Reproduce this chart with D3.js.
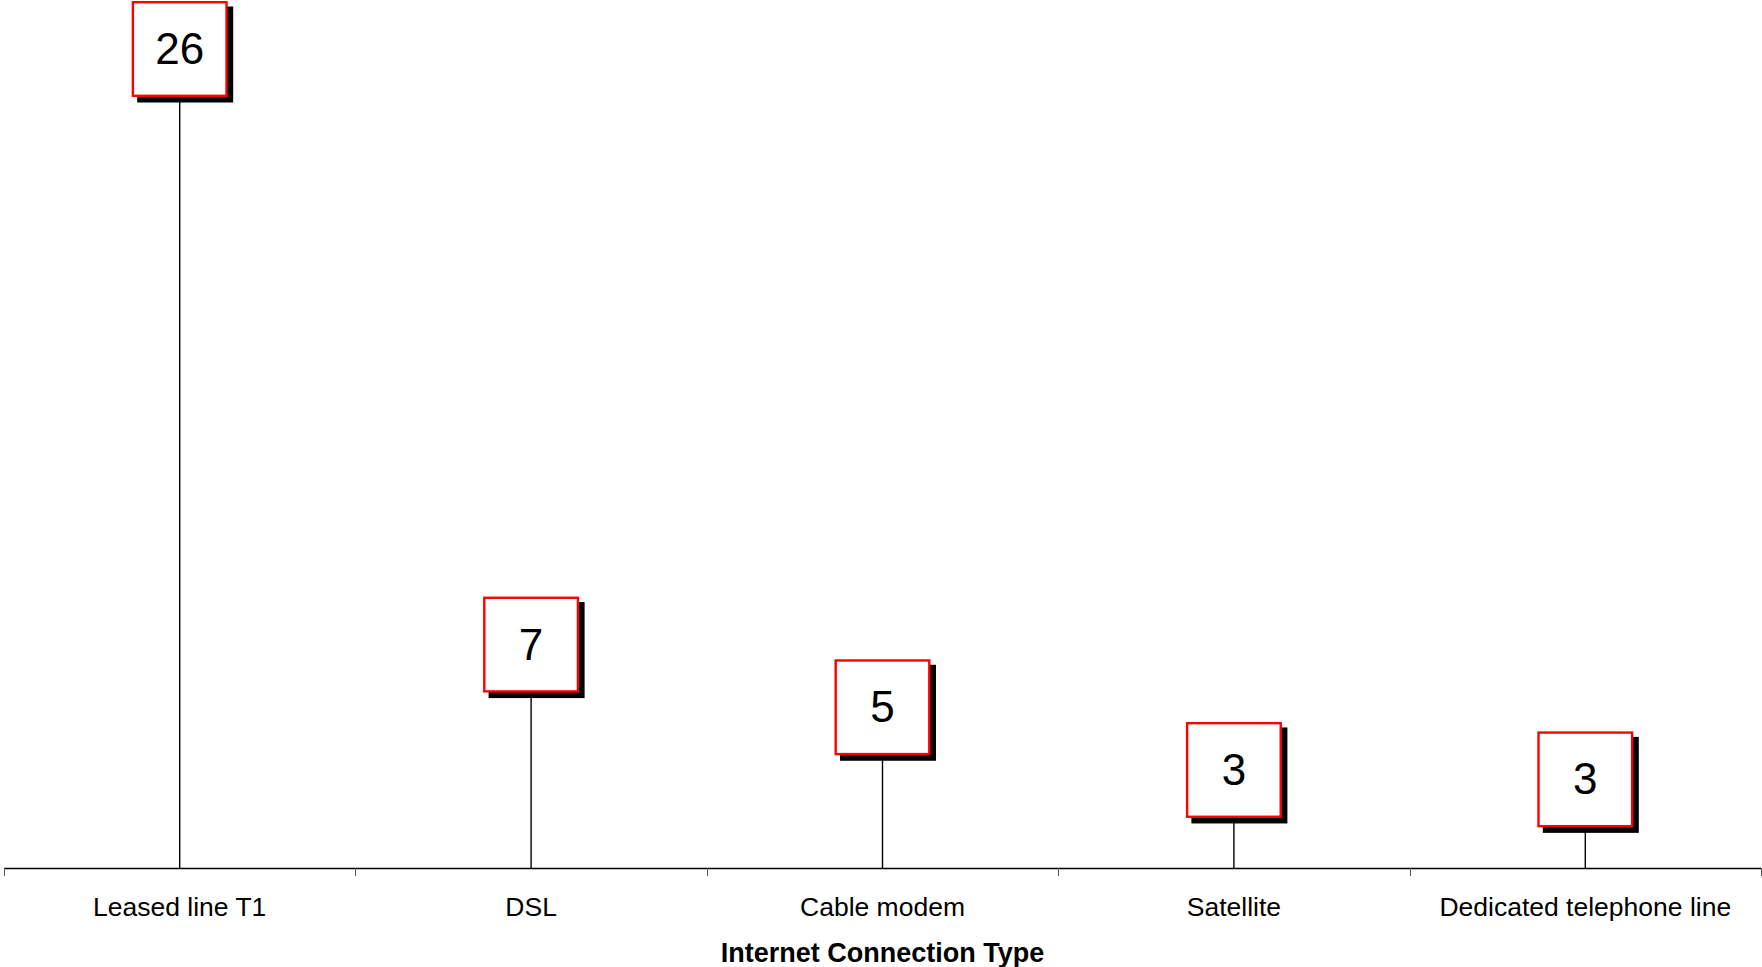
<!DOCTYPE html>
<html>
<head>
<meta charset="utf-8">
<script src="https://cdn.jsdelivr.net/npm/d3@7"></script>
<style>
  html, body { margin: 0; padding: 0; background: #fff; }
  svg { display: block; }
  text { font-family: "Liberation Sans", Arial, sans-serif; }
</style>
</head>
<body>
<svg id="chart" width="1762" height="967"></svg>
<script>
const categories = ["Leased line T1", "DSL", "Cable modem", "Satellite", "Dedicated telephone line"];
const values = [26, 7, 5, 3, 2.7];
const axisTitle = "Internet Connection Type";

const W = 1762, H = 967;
const axisY = 868;
const svg = d3.select("#chart");

const x = d3.scaleBand().domain(categories).range([4, 1761]).padding(0);
const y = d3.scaleLinear().domain([0, 26]).range([864, 49]);
const fmt = d3.format(".0f");
const data = categories.map((c, i) => ({ c, v: values[i] }));

// axis line and boundary ticks
svg.append("line")
  .attr("x1", x.range()[0]).attr("x2", x.range()[1])
  .attr("y1", axisY + 0.5).attr("y2", axisY + 0.5)
  .attr("stroke", "#000").attr("stroke-width", 1.3);
const bounds = categories.map(c => x(c)).concat([x.range()[1]]);
svg.selectAll("line.tick").data(bounds).enter().append("line")
  .attr("class", "tick")
  .attr("x1", d => Math.round(d) + 0.5).attr("x2", d => Math.round(d) + 0.5)
  .attr("y1", axisY).attr("y2", axisY + 8)
  .attr("stroke", "#555").attr("stroke-width", 1);

// category labels
svg.selectAll("text.cat").data(categories).enter().append("text")
  .attr("class", "cat")
  .attr("x", d => x(d) + x.bandwidth() / 2)
  .attr("y", 916)
  .attr("text-anchor", "middle")
  .attr("font-size", 26.5)
  .attr("fill", "#000")
  .text(d => d);

// axis title
svg.append("text")
  .attr("x", (x.range()[0] + x.range()[1]) / 2)
  .attr("y", 962)
  .attr("text-anchor", "middle")
  .attr("font-size", 27)
  .attr("font-weight", "bold")
  .attr("fill", "#000")
  .text(axisTitle);

// stems
svg.selectAll("line.stem").data(data).enter().append("line")
  .attr("class", "stem")
  .attr("x1", d => x(d.c) + x.bandwidth() / 2)
  .attr("x2", d => x(d.c) + x.bandwidth() / 2)
  .attr("y1", axisY)
  .attr("y2", d => y(d.v))
  .attr("stroke", "#000").attr("stroke-width", 1.4);

// label boxes
const box = 96;
const g = svg.selectAll("g.lbl").data(data).enter().append("g")
  .attr("class", "lbl")
  .attr("transform", d => `translate(${x(d.c) + x.bandwidth() / 2},${y(d.v)})`);
g.append("rect")
  .attr("x", -box / 2 + 5.5).attr("y", -box / 2 + 5.5)
  .attr("width", box).attr("height", box)
  .attr("fill", "#000");
g.append("rect")
  .attr("x", -box / 2 + 1.2).attr("y", -box / 2 + 1.2)
  .attr("width", box - 2.4).attr("height", box - 2.4)
  .attr("fill", "#fff").attr("stroke", "#ff0000").attr("stroke-width", 2.4);
g.append("text")
  .attr("x", 0).attr("y", 15)
  .attr("text-anchor", "middle")
  .attr("font-size", 44)
  .attr("fill", "#000")
  .text(d => fmt(d.v));
</script>
</body>
</html>
